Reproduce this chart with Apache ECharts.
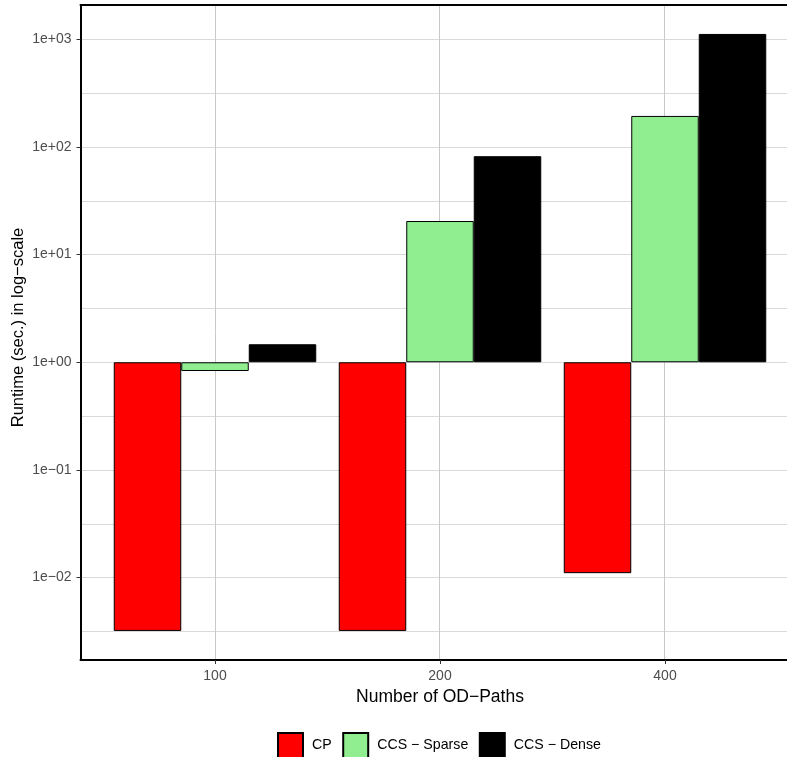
<!DOCTYPE html>
<html>
<head>
<meta charset="utf-8">
<script src="https://cdn.jsdelivr.net/npm/echarts@6/dist/echarts.min.js"></script>
<style>
  html, body { margin: 0; padding: 0; background: #ffffff; }
  #chart { width: 787px; height: 757px; }
</style>
</head>
<body>
<div id="chart"></div>
<script>
// Runtime per method and number of OD-paths (seconds)
const categories = ['100', '200', '400'];
const seriesNames = ['CP', 'CCS \u2212 Sparse', 'CCS \u2212 Dense'];
const cpValues = [0.0032, 0.0032, 0.011];
const sparseValues = [0.83, 20.5, 194];
const denseValues = [1.47, 82, 1120];
const seriesColors = ['#ff0000', '#90ee90', '#000000'];

// Log10 axis range and tick positions (exponents)
const logMin = -2.765;
const logMax = 3.318;
const majorExponents = [-2, -1, 0, 1, 2, 3];
const gridExponents = [-2.5, -2, -1.5, -1, -0.5, 0, 0.5, 1, 1.5, 2, 2.5, 3];

const FONT = 'Liberation Sans, Arial, Helvetica, sans-serif';

function expLabel(e) {
  const n = Math.round(e);
  const sign = n < 0 ? '\u2212' : '+';
  const mag = String(Math.abs(n)).padStart(2, '0');
  return '1e' + sign + mag;
}

const chart = echarts.init(document.getElementById('chart'), null, { renderer: 'canvas' });

const toLog = arr => arr.map(v => Math.log10(v));
const valueSets = [cpValues, sparseValues, denseValues];

const option = {
  animation: false,
  backgroundColor: '#ffffff',
  textStyle: { fontFamily: FONT },
  grid: [
    // bars
    { left: 102.5, width: 675, top: 5, height: 655, outerBoundsMode: 'none', containLabel: false },
    // panel frame and grid lines (runs past the right edge of the canvas)
    { left: 80.5, width: 718, top: 5, height: 655, outerBoundsMode: 'none', containLabel: false }
  ],
  legend: {
    left: 277,
    top: 732,
    padding: 0,
    itemWidth: 25,
    itemHeight: 25,
    itemGap: 10.5,
    icon: 'rect',
    textStyle: { fontFamily: FONT, fontSize: 14.2, color: '#000000', padding: [0, 0, 0, 4] },
    data: seriesNames
  },
  xAxis: [
    {
      type: 'category',
      gridIndex: 0,
      data: categories,
      position: 'bottom',
      axisLine: { show: false, onZero: false },
      axisTick: { show: true, alignWithLabel: true, length: 4, lineStyle: { color: '#333333', width: 1 } },
      axisLabel: { fontFamily: FONT, fontSize: 14, color: '#4d4d4d', margin: 9 },
      splitLine: { show: false },
      name: 'Number of OD\u2212Paths',
      nameLocation: 'middle',
      nameGap: 26.5,
      nameTextStyle: { fontFamily: FONT, fontSize: 17.5, color: '#000000' }
    },
    {
      // vertical grid lines at category centres, bottom border
      type: 'value',
      gridIndex: 1,
      min: -0.6,
      max: 2.6,
      position: 'bottom',
      axisLine: { show: true, onZero: false, lineStyle: { color: '#000000', width: 2 } },
      axisTick: { show: false, customValues: [0, 1, 2] },
      axisLabel: { show: false },
      splitLine: { show: true, lineStyle: { color: '#c8c8c8', width: 1 } }
    },
    {
      // top border
      type: 'value',
      gridIndex: 1,
      min: -0.6,
      max: 2.6,
      position: 'top',
      axisLine: { show: true, onZero: false, lineStyle: { color: '#000000', width: 2 } },
      axisTick: { show: false },
      axisLabel: { show: false },
      splitLine: { show: false }
    }
  ],
  yAxis: [
    {
      type: 'value',
      gridIndex: 0,
      min: logMin,
      max: logMax,
      show: false
    },
    {
      // left border with labelled decades
      type: 'value',
      gridIndex: 1,
      min: logMin,
      max: logMax,
      position: 'left',
      axisLine: { show: true, onZero: false, lineStyle: { color: '#000000', width: 2 } },
      axisTick: { show: true, length: 4, customValues: majorExponents, lineStyle: { color: '#333333', width: 1 } },
      axisLabel: {
        fontFamily: FONT, fontSize: 14, color: '#4d4d4d', margin: 9,
        customValues: majorExponents,
        formatter: v => expLabel(v)
      },
      splitLine: { show: false },
      name: 'Runtime (sec.) in log\u2212scale',
      nameLocation: 'middle',
      nameRotate: 90,
      nameGap: 54,
      nameMoveOverlap: false,
      nameTextStyle: { fontFamily: FONT, fontSize: 16.5, color: '#000000', padding: [0, 0, 0, 10] }
    },
    {
      // horizontal grid lines at decades and half decades
      type: 'value',
      gridIndex: 1,
      min: logMin,
      max: logMax,
      position: 'left',
      axisLine: { show: false },
      axisTick: { show: false, customValues: gridExponents },
      axisLabel: { show: false },
      splitLine: { show: true, lineStyle: { color: '#d9d9d9', width: 1 } }
    }
  ],
  series: seriesNames.map((name, i) => ({
    name: name,
    type: 'bar',
    xAxisIndex: 0,
    yAxisIndex: 0,
    data: toLog(valueSets[i]),
    barGap: '0%',
    barCategoryGap: '10%',
    itemStyle: { color: seriesColors[i], borderColor: '#000000', borderWidth: 1 },
    emphasis: { disabled: true }
  }))
};

chart.setOption(option);
</script>
</body>
</html>
